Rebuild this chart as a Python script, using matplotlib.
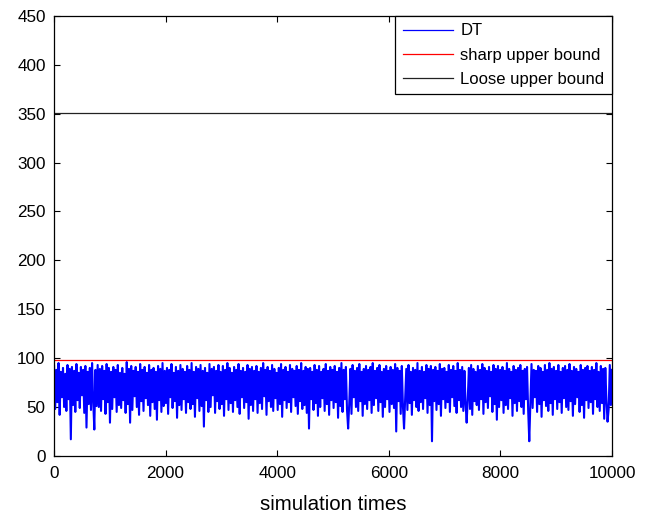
import numpy as np
import matplotlib
matplotlib.use("Agg")
import matplotlib.pyplot as plt

# DT values (500 samples across the 10000 simulation runs)
dt_values = [
    92, 48, 88, 55, 95, 42, 86, 60, 90, 50, 84, 46, 93, 58, 89, 17, 91, 52, 87, 45,
    94, 57, 85, 49, 91, 62, 88, 44, 92, 29, 86, 53, 90, 47, 95, 56, 27, 88, 51, 93,
    50, 89, 46, 92, 58, 87, 43, 94, 55, 90, 34, 86, 48, 91, 60, 88, 45, 93, 52, 85,
    49, 90, 57, 84, 44, 96, 53, 89, 34, 92, 47, 87, 61, 91, 50, 86, 42, 94, 56, 88,
    46, 91, 59, 85, 52, 93, 41, 88, 55, 90, 48, 86, 37, 92, 57, 89, 45, 95, 51, 87,
    54, 90, 43, 88, 60, 94, 49, 85, 56, 91, 39, 87, 52, 93, 47, 89, 58, 86, 44, 92,
    55, 88, 48, 95, 53, 86, 40, 91, 59, 89, 46, 93, 51, 87, 30, 90, 57, 85, 45, 94,
    50, 89, 62, 91, 44, 87, 56, 93, 48, 86, 53, 92, 41, 88, 58, 95, 47, 90, 54, 85,
    45, 91, 57, 88, 50, 94, 43, 87, 60, 90, 49, 86, 55, 93, 38, 89, 52, 91, 46, 87,
    58, 92, 44, 86, 54, 90, 48, 95, 61, 88, 42, 91, 56, 87, 50, 93, 46, 89, 59, 85,
    47, 90, 53, 94, 40, 88, 57, 91, 49, 86, 55, 93, 45, 89, 60, 87, 51, 92, 43, 88,
    56, 95, 48, 87, 52, 91, 44, 89, 28, 90, 58, 86, 47, 93, 54, 88, 41, 92, 50, 86,
    59, 89, 46, 94, 53, 87, 42, 91, 57, 88, 49, 92, 55, 86, 39, 90, 51, 95, 45, 88,
    58, 91, 47, 28, 54, 89, 43, 93, 60, 87, 50, 90, 46, 94, 56, 86, 41, 89, 53, 92,
    48, 88, 57, 91, 44, 95, 52, 87, 59, 90, 46, 93, 55, 86, 40, 89, 50, 92, 58, 87,
    45, 91, 53, 88, 49, 94, 25, 90, 56, 87, 43, 92, 51, 28, 60, 89, 47, 93, 54, 86,
    42, 90, 57, 88, 50, 95, 46, 87, 55, 91, 48, 86, 59, 93, 44, 89, 52, 92, 15, 88,
    56, 91, 47, 87, 53, 94, 41, 89, 58, 90, 49, 86, 55, 93, 45, 88, 60, 92, 51, 87,
    44, 95, 57, 88, 50, 91, 46, 87, 54, 34, 59, 90, 48, 93, 42, 89, 56, 86, 52, 92,
    47, 88, 58, 94, 43, 90, 55, 87, 49, 91, 61, 86, 45, 93, 53, 89, 37, 92, 50, 88,
    57, 91, 44, 87, 52, 95, 48, 89, 59, 86, 41, 92, 54, 88, 46, 90, 56, 93, 50, 87,
    43, 89, 58, 91, 47, 15, 55, 94, 49, 88, 60, 87, 45, 92, 53, 90, 40, 86, 57, 93,
    51, 88, 46, 95, 54, 89, 42, 91, 58, 87, 48, 93, 55, 86, 44, 90, 59, 92, 50, 88,
    47, 94, 56, 87, 41, 91, 53, 89, 60, 86, 45, 93, 52, 88, 39, 90, 57, 92, 49, 87,
    55, 91, 43, 88, 58, 95, 50, 86, 46, 92, 54, 89, 38, 90, 57, 35, 48, 93, 52, 88,
]
sharp_bound = 97.8
loose_bound = 351.0
n_runs = 10000

x_ticks = [0, 2000, 4000, 6000, 8000, 10000]
y_ticks = [0, 50, 100, 150, 200, 250, 300, 350, 400, 450]

plt.rcParams["font.family"] = ["Liberation Sans", "DejaVu Sans"]

fig = plt.figure(figsize=(6.46, 5.14), dpi=100)
ax = fig.add_axes([0.0836, 0.113, 0.8638, 0.856])

runs = np.linspace(1, n_runs, len(dt_values))
ax.plot(runs, dt_values, color="#0000ff", lw=1.5, label="DT")
ax.axhline(sharp_bound, color="#ff0000", lw=0.9, label="sharp upper bound")
ax.axhline(loose_bound, color="#222222", lw=0.9, label="Loose upper bound")

ax.set_xlim(0, n_runs)
ax.set_ylim(0, 450)
ax.set_xticks(x_ticks)
ax.set_yticks(y_ticks)
ax.tick_params(direction="in", top=True, right=True, length=4,
               labelsize=12.3, width=0.8)
ax.tick_params(axis="x", pad=7)
ax.tick_params(axis="y", pad=6)
for s in ax.spines.values():
    s.set_linewidth(0.9)
ax.set_xlabel("simulation times", fontsize=14.8, labelpad=10)

leg = ax.legend(loc="upper right", borderaxespad=0, fancybox=False,
                fontsize=12, handlelength=3.0, handletextpad=0.45,
                framealpha=1, borderpad=0.45, labelspacing=0.55)
leg.get_frame().set_edgecolor("black")
leg.get_frame().set_linewidth(0.9)
for line in leg.get_lines():
    line.set_linewidth(0.9)

fig.savefig("out.png", dpi=100)
